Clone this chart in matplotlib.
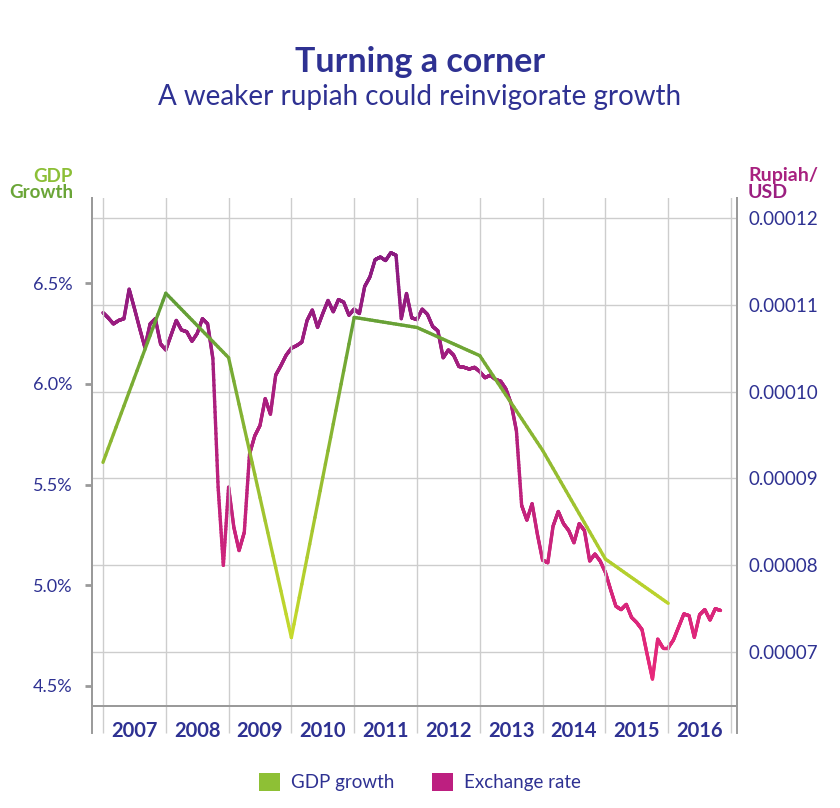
import numpy as np
import matplotlib
matplotlib.use("Agg")
import matplotlib.pyplot as plt
from matplotlib.collections import LineCollection
from matplotlib.colors import LinearSegmentedColormap
from matplotlib.patches import Patch
from matplotlib.ticker import FixedLocator, FuncFormatter, NullFormatter

# ---------------- data ----------------
year_ticks = list(range(2007, 2018))
year_labels = [str(y) for y in range(2007, 2017)]

gdp_years = [2007, 2008, 2009, 2010, 2011, 2012, 2013, 2014, 2015, 2016]
gdp_growth = [5.61, 6.45, 6.13, 4.74, 6.33, 6.28, 6.14, 5.67, 5.13, 4.91]

fx_start_year = 2007          # monthly series, first value = Jan 2007
fx_rate_1e5 = [               # rupiah/USD in units of 1e-5
    10.91, 10.85, 10.78, 10.82, 10.84, 11.18, 10.96, 10.73, 10.51, 10.78, 10.84, 10.55,
    10.48, 10.65, 10.82, 10.71, 10.69, 10.58, 10.67, 10.84, 10.78, 10.38, 8.90, 8.00,
    8.90, 8.44, 8.17, 8.38, 9.28, 9.49, 9.61, 9.92, 9.74, 10.19, 10.30, 10.42,
    10.50, 10.53, 10.57, 10.82, 10.94, 10.74, 10.90, 11.05, 10.92, 11.06, 11.03, 10.88,
    10.95, 10.90, 11.21, 11.32, 11.52, 11.55, 11.51, 11.60, 11.57, 10.84, 11.13, 10.85,
    10.83, 10.95, 10.89, 10.75, 10.70, 10.39, 10.48, 10.42, 10.29, 10.28, 10.26, 10.28,
    10.23, 10.16, 10.19, 10.14, 10.12, 10.03, 9.86, 9.55, 8.69, 8.52, 8.71, 8.36,
    8.06, 8.03, 8.45, 8.62, 8.48, 8.40, 8.26, 8.48, 8.40, 8.05, 8.13, 8.05,
    7.92, 7.72, 7.53, 7.49, 7.55, 7.40, 7.34, 7.26, 6.97, 6.69, 7.15, 7.05,
    7.05, 7.14, 7.29, 7.44, 7.42, 7.17, 7.43, 7.49, 7.37, 7.50, 7.48,
]

gdp_ticks = [4.5, 5.0, 5.5, 6.0, 6.5]
fx_ticks = [0.00007, 0.00008, 0.00009, 0.00010, 0.00011, 0.00012]

# ---------------- style ----------------
FONT = ["Lato", "DejaVu Sans"]
plt.rcParams["font.family"] = FONT
NAVY = "#2e3192"
GRID = "#cdcdcd"
SPINE = "#9a9a9a"

fig = plt.figure(figsize=(8.4, 8.08), dpi=100)
ax = fig.add_axes([92 / 840, 102 / 808, 645 / 840, 508 / 808])
ax2 = ax.twinx()
ax.set_zorder(ax2.get_zorder() + 1)
ax.patch.set_visible(False)

fx_x = np.array([fx_start_year + i / 12 for i in range(len(fx_rate_1e5))])
fx_y = np.array(fx_rate_1e5) * 1e-5


def gradient_line(axis, x, y, colors, vmin, vmax, lw, zorder):
    x = np.asarray(x, float)
    y = np.asarray(y, float)
    segs, vals = [], []
    for i in range(len(x) - 1):
        t = np.linspace(0, 1, 25)
        px = x[i] + (x[i + 1] - x[i]) * t
        py = y[i] + (y[i + 1] - y[i]) * t
        pts = np.column_stack([px, py])
        segs.extend(np.stack([pts[:-1], pts[1:]], axis=1))
        vals.extend((py[:-1] + py[1:]) / 2)
    cmap = LinearSegmentedColormap.from_list("g", colors)
    lc = LineCollection(segs, cmap=cmap, linewidths=lw, zorder=zorder,
                        capstyle="round", joinstyle="round")
    lc.set_array(np.asarray(vals))
    lc.set_clim(vmin, vmax)
    axis.add_collection(lc)
    return lc


gradient_line(ax, gdp_years, gdp_growth, ["#c9dc2b", "#5c9a37"], 4.7, 6.5, 2.4, 5)
gradient_line(ax2, fx_x, fx_y, ["#e8287a", "#8a1a80"], 6.7e-5, 11.6e-5, 2.4, 4)

# limits
ax.set_xlim(2006.825, 2017.096)
ax.set_ylim(4.40, 6.923)
ax2.set_ylim(6.38e-5, 12.23e-5)

# spines
for a in (ax, ax2):
    a.spines["top"].set_visible(False)
    for s in ("left", "right", "bottom"):
        a.spines[s].set_color(SPINE)
        a.spines[s].set_linewidth(1.4)
ext = 27 / 508
for xx in (0, 1):
    ax.plot([xx, xx], [-ext, 0], transform=ax.transAxes, clip_on=False,
            color=SPINE, lw=1.4, zorder=1)

# x axis: vertical year lines extending below, labels centred in each year
ax.xaxis.set_major_locator(FixedLocator(year_ticks))
ax.xaxis.set_major_formatter(NullFormatter())
ax.xaxis.set_minor_locator(FixedLocator([y + 0.5 for y in range(2007, 2017)]))
ax.xaxis.set_minor_formatter(FuncFormatter(lambda v, p: str(int(v))))
ax.tick_params(axis="x", which="major", length=27 * 0.72, width=1, color=GRID,
               direction="out")
ax.tick_params(axis="x", which="minor", length=0, pad=11, labelsize=14.5,
               labelcolor=NAVY)
for lab in ax.xaxis.get_minorticklabels():
    lab.set_fontweight("bold")
ax.grid(axis="x", which="major", color=GRID, lw=1, zorder=0)

# left y axis
ax.yaxis.set_major_locator(FixedLocator(gdp_ticks))
ax.yaxis.set_major_formatter(FuncFormatter(lambda v, p: f"{v:.1f}%"))
ax.tick_params(axis="y", length=5, width=2, color=SPINE, pad=9,
               labelsize=13, labelcolor=NAVY)

# right y axis
ax2.yaxis.set_major_locator(FixedLocator(fx_ticks))
ax2.yaxis.set_major_formatter(FuncFormatter(lambda v, p: f"{v:.5f}"))
ax2.tick_params(axis="y", length=0, pad=8, labelsize=13.5, labelcolor=NAVY)
ax2.grid(axis="y", color=GRID, lw=1, zorder=0)
ax2.set_axisbelow(True)

# axis titles
fig.text(73 / 840, 1 - 176 / 808, "GDP", ha="right", va="center",
         fontsize=13.5, fontweight="bold", color="#8cbf36")
fig.text(73 / 840, 1 - 192 / 808, "Growth", ha="right", va="center",
         fontsize=13.5, fontweight="bold", color="#6aa537")
fig.text(748 / 840, 1 - 176 / 808, "Rupiah/", ha="left", va="center",
         fontsize=14, fontweight="bold", color="#a8217f")
fig.text(748 / 840, 1 - 193 / 808, "USD", ha="left", va="center",
         fontsize=14, fontweight="bold", color="#9b1f80")

# titles
fig.text(0.5, 1 - 62 / 808, "Turning a corner", ha="center", va="center",
         fontsize=24.5, fontweight="bold", color=NAVY)
fig.text(0.5, 1 - 97 / 808, "A weaker rupiah could reinvigorate growth",
         ha="center", va="center", fontsize=20, color=NAVY)

# legend
handles = [Patch(facecolor="#8ec035", edgecolor="none", label="GDP growth"),
           Patch(facecolor="#bd1f80", edgecolor="none", label="Exchange rate")]
leg = fig.legend(handles=handles, loc="center", bbox_to_anchor=(0.5, 26 / 808),
                 ncol=2, frameon=False, fontsize=13.5, handlelength=1.1,
                 handleheight=1.1, handletextpad=0.6, columnspacing=2.0)
for t in leg.get_texts():
    t.set_color(NAVY)

fig.savefig("out.png", dpi=100)
